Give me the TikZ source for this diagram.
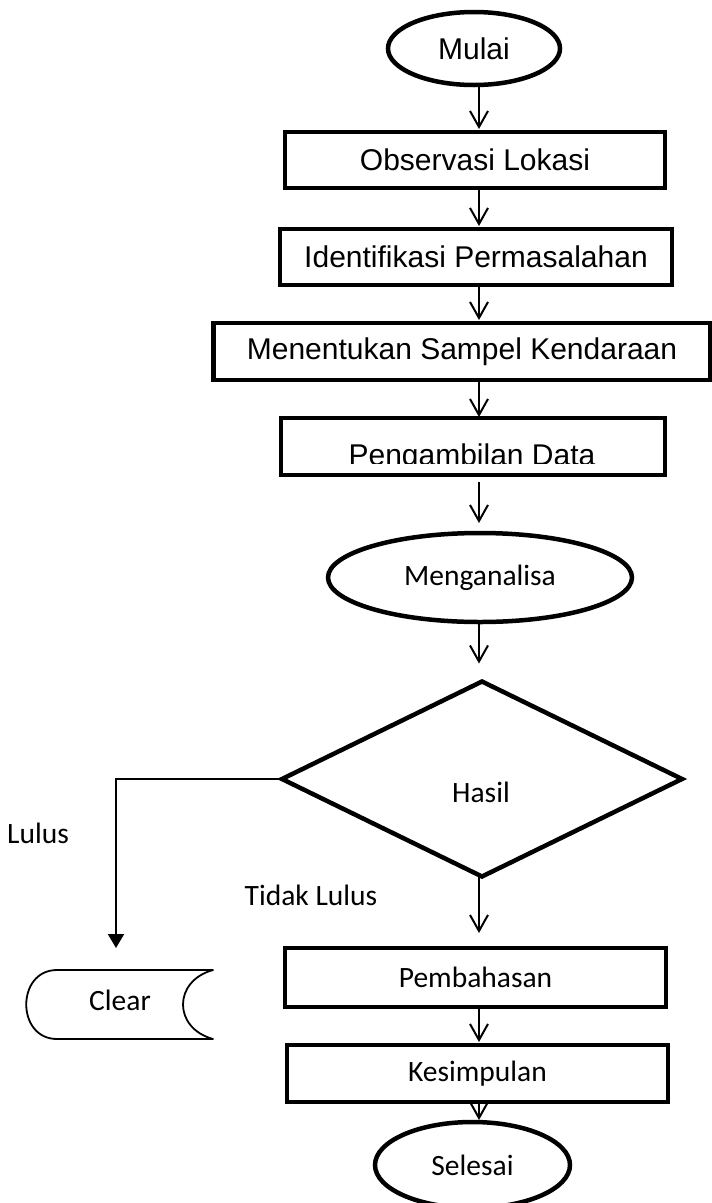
\documentclass[tikz,border=0pt]{standalone}
\usepackage{fontspec}
\setmainfont{Liberation Sans}
\newfontfamily\calfont{Carlito}
\usetikzlibrary{shapes.geometric,arrows.meta}
\begin{document}
\begin{tikzpicture}[x=1pt,y=-1pt,
  every node/.style={font=\fontsize{30}{35}\selectfont, inner sep=0pt, outer sep=0pt},
  procbox/.style={draw, line width=4.5pt, rectangle},
  term/.style={draw, line width=4.5pt, ellipse},
  dec/.style={draw, line width=4.5pt, diamond, line join=miter},
  cal/.style={font=\fontsize{29.5}{35}\selectfont\calfont},
  arr/.style={line width=2pt, -{Straight Barb[length=16pt,width=18pt]}},
  farr/.style={line width=2pt, -{Triangle[length=14pt,width=16pt]}},
  thinline/.style={line width=1.8pt, line join=round}]
\useasboundingbox (0,0) rectangle (712,1203);

\node[term, minimum width=172pt, minimum height=73pt] (mulai) at (474,48.5) {Mulai};
\node[procbox, minimum width=380pt, minimum height=56pt] (obs) at (475,160) {Observasi Lokasi};
\node[procbox, minimum width=392pt, minimum height=56pt] (ident) at (476,257) {Identifikasi Permasalahan};
\node[procbox, minimum width=497pt, minimum height=57pt] (men) at (462,351.5) {Menentukan Sampel Kendaraan};
\node[procbox, minimum width=384pt, minimum height=57pt] (peng) at (473,446.5) {};
\begin{scope}
  \clip (281,420) rectangle (664,463);
  \node[anchor=base] (pengtxt) at (472,465) {Pengambilan Data};
\end{scope}
\node[term, cal, minimum width=304pt, minimum height=89pt] (mengan) at (480,577.5) {Menganalisa};
\node[dec, minimum width=400pt, minimum height=195pt] (hasil) at (482,779) {};
\node[cal] (hasiltxt) at (481,792) {Hasil};
\node[cal] (lulus) at (38,833) {Lulus};
\node[cal] (tidak) at (311,895) {Tidak Lulus};
\node[procbox, cal, minimum width=381pt, minimum height=59pt] (pemb) at (475.5,977.5) {Pembahasan};
\node[procbox, cal, minimum width=381pt, minimum height=57pt] (kes) at (477.5,1073.5) {Kesimpulan};
\node[term, cal, minimum width=195pt, minimum height=86pt] (sel) at (472.5,1165) {Selesai};

% stored data symbol
\draw[thinline] (57,970) -- (213,970) .. controls (173,981) and (173,1028) .. (213,1039)
  -- (57,1039) .. controls (16,1039) and (16,970) .. (57,970);
\node[cal] (clear) at (120,1000) {Clear};

% connectors
\coordinate (ax) at (479,0);
\draw[arr, shorten >=3pt] (ax |- mulai.south) -- (ax |- obs.north);
\draw[arr, shorten >=3pt] (ax |- obs.south) -- (ax |- ident.north);
\draw[arr, shorten >=3pt] (ax |- ident.south) -- (ax |- men.north);
\draw[arr, shorten >=1pt] (ax |- men.south) -- (ax |- peng.north);
\draw[arr, shorten <=7pt, shorten >=10pt] (ax |- peng.south) -- (ax |- mengan.north);
\draw[arr, shorten >=18pt] (ax |- mengan.south) -- (ax |- hasil.north);
\draw[arr, shorten >=15pt] (ax |- hasil.south) -- (ax |- pemb.north);
\draw[arr, shorten >=3pt] (ax |- pemb.south) -- (ax |- kes.north);
\draw[arr, shorten >=2pt] (ax |- kes.south) -- (ax |- sel.north);

\coordinate (lend) at (116,948);
\draw[farr] (hasil.west) -| (lend);
\end{tikzpicture}
\end{document}
